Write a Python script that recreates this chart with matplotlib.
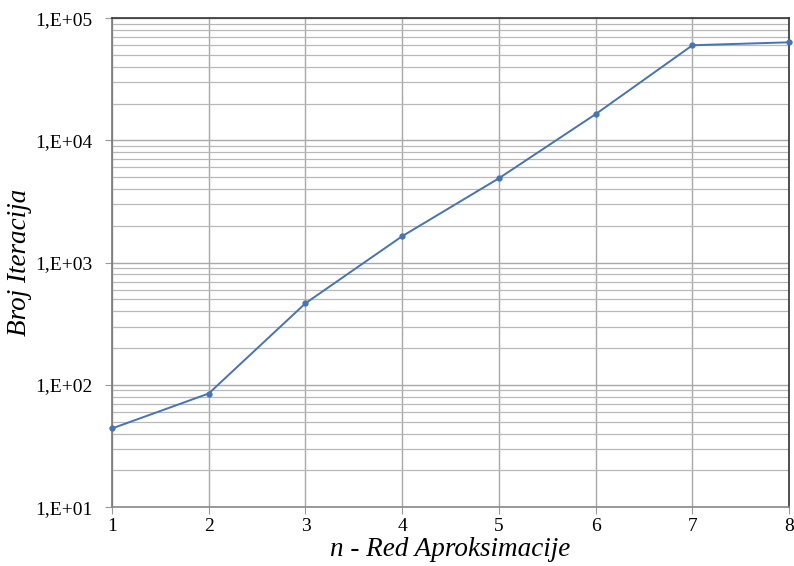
import matplotlib.pyplot as plt
from matplotlib.ticker import FixedLocator, LogLocator, NullFormatter

# Red aproksimacije i broj iteracija
red = [1, 2, 3, 4, 5, 6, 7, 8]
iteracije = [44, 85, 465, 1645, 4900, 16400, 60000, 63400]
y_ticks = [1e1, 1e2, 1e3, 1e4, 1e5]
y_labels = ['1,E+01', '1,E+02', '1,E+03', '1,E+04', '1,E+05']

plt.rcParams['font.family'] = ['Liberation Serif', 'DejaVu Serif']

fig = plt.figure(figsize=(7.94, 5.66), dpi=100)
ax = fig.add_axes([0.141, 0.104, 0.853, 0.864])

ax.plot(red, iteracije, color='#4573b5', lw=1.4, marker='o', ms=3.5, zorder=3, clip_on=False)

ax.set_yscale('log')
ax.set_ylim(1e1, 1e5)
ax.set_xlim(1, 8)
ax.yaxis.set_major_locator(FixedLocator(y_ticks))
ax.set_yticklabels(y_labels)
ax.yaxis.set_minor_locator(LogLocator(base=10, subs=range(2, 10)))
ax.yaxis.set_minor_formatter(NullFormatter())
ax.set_xticks(red)

ax.grid(which='major', axis='both', color='#a8a8a8', lw=1.0)
ax.grid(which='minor', axis='y', color='#b8b8b8', lw=0.9)

ax.tick_params(axis='y', which='major', length=5, color='#999999', labelsize=14, pad=9)
ax.tick_params(axis='y', which='minor', length=0)
ax.tick_params(axis='x', length=5, color='#999999', labelsize=14, pad=3)

for side in ['top', 'right']:
    ax.spines[side].set_color('#333333')
ax.spines['left'].set_color('#777777')
ax.spines['bottom'].set_color('#888888')
for s in ax.spines.values():
    s.set_linewidth(1.2)

ax.set_xlabel('n - Red Aproksimacije', fontsize=19.5, style='italic', labelpad=1)
ax.set_ylabel('Broj Iteracija', fontsize=19.5, style='italic', labelpad=2)

plt.savefig('out.png', dpi=100)
plt.close()
